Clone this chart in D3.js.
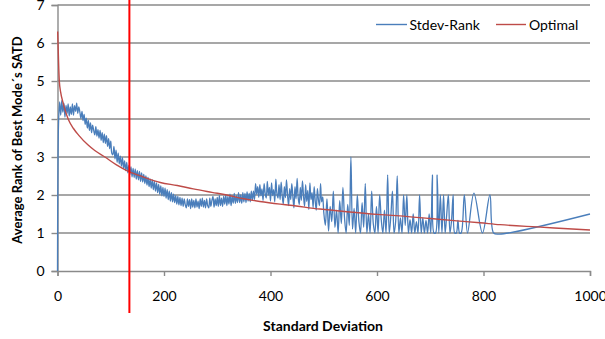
<!DOCTYPE html>
<html>
<head>
<meta charset="utf-8">
<script src="https://cdn.jsdelivr.net/npm/d3@7"></script>
<style>
  body { margin: 0; background: #fff; }
  svg { display: block; font-family: Lato, "Open Sans", sans-serif; }
</style>
</head>
<body>
<div class="chart-container"></div>
<script>
// x ticks / y ticks
const xTicks = [0, 200, 400, 600, 800, 1000];
const yTicks = [0, 1, 2, 3, 4, 5, 6, 7];

// Stdev-Rank, dense part: one value every 2 units of standard deviation, from 0
const denseStart = 0;
const denseStep = 2;
const rankDense = [
  0, 3.9, 4.45, 4.1, 4.48, 4.18, 4.42, 4.05, 4.36, 4.15,
  4.4, 4.08, 4.32, 4.12, 4.4, 4.1, 4.35, 4.2, 4.42, 4.15,
  4.32, 4.18, 4.02, 4.2, 3.96, 4.12, 3.86, 4.02, 3.76, 3.96,
  3.7, 3.9, 3.64, 3.84, 3.7, 3.58, 3.8, 3.55, 3.72, 3.5,
  3.7, 3.44, 3.64, 3.38, 3.6, 3.36, 3.56, 3.28, 3.48, 3.22,
  3.42, 3.1, 3.06, 3.28, 2.95, 3.18, 2.86, 3.1, 2.82, 3.02,
  2.76, 2.98, 2.7, 2.9, 2.64, 2.86, 2.58, 2.78, 2.54, 2.74,
  2.48, 2.7, 2.46, 2.68, 2.42, 2.64, 2.4, 2.62, 2.36, 2.58,
  2.34, 2.54, 2.3, 2.5, 2.26, 2.46, 2.22, 2.42, 2.18, 2.4,
  2.14, 2.36, 2.1, 2.32, 2.06, 2.28, 2.02, 2.24, 1.98, 2.2,
  1.96, 2.18, 1.92, 2.14, 1.88, 2.1, 1.84, 2.06, 1.82, 2.02,
  1.8, 1.98, 1.76, 1.96, 1.74, 1.94, 1.72, 1.92, 1.7, 1.9,
  1.74, 1.66, 1.9, 1.7, 1.88, 1.64, 1.9, 1.68, 1.86, 1.66,
  1.9, 1.68, 1.84, 1.64, 1.9, 1.7, 1.92, 1.68, 1.86, 1.66,
  1.9, 1.72, 1.66, 1.92, 1.7, 1.86, 1.96, 1.68, 1.9, 1.72,
  1.94, 1.7, 1.98, 1.72, 1.92, 1.7, 1.96, 1.76, 2.0, 1.72,
  1.96, 1.76, 2.02, 1.72, 1.98, 1.78, 2.04, 1.78, 1.98, 1.8,
  2.06, 1.8, 2.0, 1.78, 2.06, 1.82, 2.04, 1.8, 2.08, 1.84,
  2.04, 1.82, 2.1, 1.86, 2.1, 1.88, 2.3, 2.02, 2.22, 1.94,
  2.27, 1.98, 2.16, 1.86, 2.3, 2.04, 1.92, 2.36, 2.0, 2.2,
  1.84, 2.32, 1.98, 2.14, 1.82, 2.42, 2.04, 1.92, 2.27, 1.88,
  2.34, 1.98, 1.76, 2.22, 1.93, 2.4, 2.0, 1.72, 2.17, 1.88,
  2.3, 1.96, 1.66, 2.22, 1.9, 2.44, 1.93, 1.75, 2.2, 1.86,
  2.37, 1.98, 1.7, 2.27, 1.83, 2.12, 1.62, 2.32, 1.88, 2.06,
  1.67, 2.22, 1.84, 1.6, 2.17, 1.88, 1.72, 2.3, 1.82, 1.95
];

// Stdev-Rank, spiky part: one value every 3 units, from 500
const spikyStart = 500;
const spikyStep = 3;
const rankSpiky = [
  1.55, 1.2, 1.9, 1.05, 1.7, 1.3, 2.1, 1.15, 1.6, 1.0,
  1.85, 1.25, 2.2, 1.4, 1.0, 1.75, 1.2, 3.0, 1.1, 1.65,
  1.0, 2.0, 1.3, 1.0, 1.8, 1.15, 2.3, 1.0, 1.5, 1.0,
  2.1, 1.25, 1.0, 1.7, 1.0, 2.0, 1.35, 1.0, 1.6, 1.0,
  2.53, 1.0, 1.45, 2.1, 1.0, 1.3, 2.5, 1.0, 1.4, 1.0,
  2.0, 1.2, 2.0, 1.0, 1.35, 1.0, 1.5, 1.0, 1.3, 1.0,
  2.0, 1.0, 1.4, 1.0, 1.33, 1.0, 1.5, 1.0, 2.53, 1.0,
  1.0, 2.53, 1.0, 2.0, 1.0, 2.0, 1.0, 1.5, 2.0, 1.0,
  1.33, 2.0, 1.0, 1.0, 1.33, 1.0, 1.0
];

// Stdev-Rank, last sparse points
const tailX = [764, 770, 782, 798, 812, 819, 830, 1000];
const tailRank = [2.0, 1.0, 2.05, 1.0, 2.0, 1.0, 0.97, 1.5];

// Optimal curve
const optimalX = [0.3, 1, 2, 3.4, 6, 10, 15, 20, 30, 40, 57, 70, 89, 110, 132, 160, 193, 225, 255, 290,
  318, 350, 380, 418, 437, 493, 543, 600, 643, 700, 750, 793, 831, 900, 950, 1000];
const optimalVal = [6.3, 6.0, 5.5, 5.0, 4.7, 4.45, 4.2, 4.0, 3.75, 3.57, 3.32, 3.17, 3.0, 2.8, 2.63, 2.48, 2.33, 2.25, 2.16, 2.07,
  2.0, 1.9, 1.83, 1.76, 1.73, 1.63, 1.56, 1.49, 1.45, 1.38, 1.32, 1.27, 1.22, 1.16, 1.12, 1.08];

// the red marker line
const markerX = 135;

const width = 605, height = 339;
const margin = { top: 5, right: 15, bottom: 68, left: 57.5 };

const stdevData = []
  .concat(rankDense.map((v, i) => [denseStart + i * denseStep, v]))
  .concat(rankSpiky.map((v, i) => [spikyStart + i * spikyStep, v]))
  .concat(tailX.map((x, i) => [x, tailRank[i]]));
const optimalData = optimalX.map((x, i) => [x, optimalVal[i]]);

const svg = d3.select('.chart-container')
  .append('svg')
  .attr('width', width)
  .attr('height', height);

const x = d3.scaleLinear().domain([0, 1000]).range([margin.left, width - margin.right]);
const y = d3.scaleLinear().domain([0, 7]).range([height - margin.bottom, margin.top]);

const gridColor = '#8a8a8a';

// horizontal gridlines
svg.append('g')
  .selectAll('line')
  .data(yTicks.slice(1))
  .join('line')
  .attr('x1', x(0)).attr('x2', x(1000))
  .attr('y1', d => y(d)).attr('y2', d => y(d))
  .attr('stroke', gridColor)
  .attr('stroke-width', 1.4);

// y axis
const yAxis = svg.append('g')
  .attr('transform', `translate(${x(0)},0)`)
  .call(d3.axisLeft(y).tickValues(yTicks).tickSize(6).tickPadding(7).tickFormat(d3.format('d')));

// x axis
const xAxis = svg.append('g')
  .attr('transform', `translate(0,${y(0)})`)
  .call(d3.axisBottom(x).tickValues(xTicks).tickSize(5).tickPadding(15).tickFormat(d3.format('d')));

[yAxis, xAxis].forEach(g => {
  g.select('.domain').attr('stroke', gridColor).attr('stroke-width', 1.4);
  g.selectAll('.tick line').attr('stroke', gridColor).attr('stroke-width', 1.4);
  g.selectAll('.tick text').attr('fill', '#000').style('font-size', '14px').style('font-family', 'Lato, sans-serif');
});

// series
svg.append('path')
  .datum(stdevData)
  .attr('fill', 'none')
  .attr('stroke', '#4a7ebb')
  .attr('stroke-width', 1.3)
  .attr('stroke-linejoin', 'round')
  .attr('d', d3.line().x(d => x(d[0])).y(d => y(d[1])).curve(d3.curveCatmullRom.alpha(0.5)));

svg.append('path')
  .datum(optimalData)
  .attr('fill', 'none')
  .attr('stroke', '#be4b48')
  .attr('stroke-width', 1.4)
  .attr('d', d3.line().x(d => x(d[0])).y(d => y(d[1])).curve(d3.curveMonotoneX));

// vertical red line, runs past the top and below the axis labels
svg.append('line')
  .attr('x1', x(markerX)).attr('x2', x(markerX))
  .attr('y1', 0).attr('y2', 313)
  .attr('stroke', '#ff0000')
  .attr('stroke-width', 2);

// legend
const legendItems = [
  { name: 'Stdev-Rank', color: '#4a7ebb', x0: 376, x1: 407, tx: 409.5 },
  { name: 'Optimal', color: '#be4b48', x0: 496, x1: 526, tx: 529 }
];
const legend = svg.append('g');
legend.selectAll('line')
  .data(legendItems)
  .join('line')
  .attr('x1', d => d.x0).attr('x2', d => d.x1)
  .attr('y1', 24.5).attr('y2', 24.5)
  .attr('stroke', d => d.color)
  .attr('stroke-width', 1.4);
legend.selectAll('text')
  .data(legendItems)
  .join('text')
  .attr('x', d => d.tx)
  .attr('y', 25)
  .attr('dy', '0.35em')
  .style('font-size', '14px')
  .text(d => d.name);

// axis titles
svg.append('text')
  .attr('x', 323)
  .attr('y', 326)
  .attr('dy', '0.35em')
  .attr('text-anchor', 'middle')
  .style('font-size', '14px')
  .style('font-weight', 'bold')
  .text('Standard Deviation');

svg.append('text')
  .attr('transform', 'translate(17,140) rotate(-90)')
  .attr('dy', '0.35em')
  .attr('text-anchor', 'middle')
  .style('font-size', '13px')
  .style('font-weight', 'bold')
  .text('Average Rank of Best Mode´s SATD');
</script>
</body>
</html>
